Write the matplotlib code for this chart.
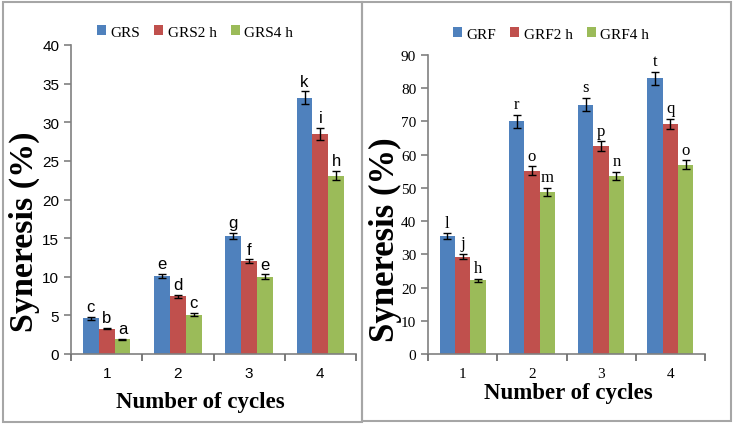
import matplotlib
matplotlib.use("Agg")
import matplotlib.pyplot as plt
from matplotlib.patches import Rectangle
import numpy as np

cycles = ["1", "2", "3", "4"]

grs_labels = ["GRS", "GRS2 h", "GRS4 h"]
grs_vals = [[4.6, 10.1, 15.3, 33.2],
            [3.3, 7.5, 12.0, 28.5],
            [1.9, 5.1, 10.0, 23.1]]
grs_err = [[0.2, 0.3, 0.4, 0.8],
           [0.1, 0.2, 0.25, 0.8],
           [0.05, 0.2, 0.3, 0.6]]
grs_letters = [["c", "e", "g", "k"],
               ["b", "d", "f", "i"],
               ["a", "c", "e", "h"]]

grf_labels = ["GRF", "GRF2 h", "GRF4 h"]
grf_vals = [[35.5, 70.0, 75.0, 83.0],
            [29.3, 55.2, 62.5, 69.3],
            [22.2, 48.8, 53.7, 57.0]]
grf_err = [[0.8, 2.0, 2.0, 2.0],
           [0.8, 1.3, 1.5, 1.5],
           [0.5, 1.3, 1.2, 1.3]]
grf_letters = [["l", "r", "s", "t"],
               ["j", "o", "p", "q"],
               ["h", "m", "n", "o"]]

colors = ["#4F81BD", "#C0504D", "#9BBB59"]
W, H = 733, 427
fig = plt.figure(figsize=(W / 100, H / 100), dpi=100)
fig.patch.set_facecolor("white")

# panel borders
for (x0, x1, y0, y1) in [(3, 362, 3, 423), (362, 731, 3, 422)]:
    fig.patches.append(Rectangle((x0 / W, 1 - y1 / H), (x1 - x0) / W, (y1 - y0) / H,
                                 transform=fig.transFigure, fill=False,
                                 edgecolor="#A6A6A6", linewidth=1.5, zorder=0))

serif = "Liberation Serif"
sans = "Liberation Sans"


def panel(rect, labels, vals, errs, letters, ymax, ystep, tickfont, letterfont,
          legend_y, legend_x, ylab_xy, xlab_xy, ylab_size):
    ax = fig.add_axes(rect)
    x = np.arange(len(cycles))
    bw = 0.222
    handles = []
    for i in range(3):
        pos = x + (i - 1) * bw
        b = ax.bar(pos, vals[i], bw, color=colors[i], label=labels[i], zorder=2)
        handles.append(b)
        ax.errorbar(pos, vals[i], yerr=errs[i], fmt="none", ecolor="black",
                    elinewidth=1.0, capsize=3, capthick=1.0, zorder=3)
        for p, v, e, t in zip(pos, vals[i], errs[i], letters[i]):
            ax.annotate(t, (p, v + e), xytext=(0, 2), textcoords="offset points",
                        ha="center", va="bottom", fontsize=12,
                        family=letterfont, zorder=4)
    ax.set_xlim(-0.5, len(cycles) - 0.5)
    ax.set_ylim(0, ymax)
    ax.set_yticks(np.arange(0, ymax + 0.1, ystep))
    ax.set_xticks(x)
    ax.set_xticklabels(cycles)
    ax.tick_params(axis="x", which="major", length=0, pad=9)
    ax.tick_params(axis="y", length=5, width=1.2, color="#808080", direction="out")
    # category boundary tick marks (Excel style) below the spine
    bounds = np.arange(-0.5, len(cycles))
    ax.vlines(bounds, -0.024, 0, colors="#707070", linewidth=1.3, clip_on=False,
              transform=ax.get_xaxis_transform(), zorder=5)
    for lab in (ax.get_xticklabels() + ax.get_yticklabels()):
        lab.set_family(tickfont)
        lab.set_fontsize(11)
    for s in ["top", "right"]:
        ax.spines[s].set_visible(False)
    for s in ["left", "bottom"]:
        ax.spines[s].set_color("#808080")
        ax.spines[s].set_linewidth(1.2)
    ax.set_ylabel("Syneresis (%)", family=serif, fontweight="bold", fontsize=ylab_size)
    ax.set_xlabel("Number of cycles", family=serif, fontweight="bold", fontsize=16.5)
    ax.yaxis.set_label_coords(*ylab_xy)
    ax.xaxis.set_label_coords(*xlab_xy)
    ax.legend(handles=handles, loc="center", bbox_to_anchor=(legend_x, legend_y),
              bbox_transform=fig.transFigure, ncol=3, frameon=False,
              prop={"family": serif, "size": 11}, handlelength=0.6,
              handleheight=0.6, handletextpad=0.3, columnspacing=0.9)
    return ax


panel([71 / W, 1 - 355 / H, (356 - 71) / W, (355 - 46) / H],
      grs_labels, grs_vals, grs_err, grs_letters, 40, 5, sans, sans,
      1 - 33 / H, 195 / W, (-0.11, 0.40), (0.453, -0.12), 24.5)
panel([428 / W, 1 - 355 / H, (705 - 428) / W, (355 - 56) / H],
      grf_labels, grf_vals, grf_err, grf_letters, 90, 10, serif, serif,
      1 - 35 / H, 551 / W, (-0.095, 0.385), (0.505, -0.095), 25)

fig.savefig("out.png", dpi=100, facecolor="white")
